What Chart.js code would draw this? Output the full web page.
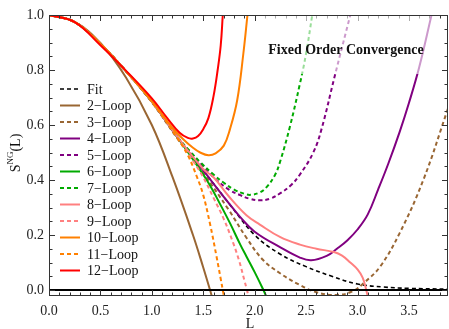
<!DOCTYPE html>
<html>
<head>
<meta charset="utf-8">
<script src="https://cdn.jsdelivr.net/npm/chart.js@4.4.1/dist/chart.umd.min.js"></script>
<style>
  html, body { margin: 0; padding: 0; background: #fff; }
  #wrap { width: 449px; height: 329px; }
</style>
</head>
<body>
<div id="wrap"><canvas id="chart" width="449" height="329"></canvas></div>
<script>
// curves, [L, S] pairs
const fit    = [[0,1],[0.25,0.974],[0.5,0.895],[0.75,0.795],[1.0,0.685],[1.25,0.555],[1.5,0.435],[1.75,0.315],[2.0,0.2],[2.25,0.13],[2.5,0.085],[2.75,0.05],[3.0,0.022],[3.25,0.011],[3.5,0.006],[3.88,0.003]];
const loop2  = [[0,1],[0.25,0.975],[0.5,0.898],[0.75,0.772],[1.0,0.6],[1.2,0.412],[1.4,0.2],[1.5,0.082],[1.566,0],[1.6,-0.045]];
const loop3  = [[0,1],[0.25,0.974],[0.5,0.895],[0.75,0.795],[1.0,0.683],[1.25,0.55],[1.5,0.425],[1.75,0.29],[1.92,0.19],[2.08,0.11],[2.25,0.06],[2.43,0.02],[2.6,-0.008],[2.8,-0.018],[2.95,-0.005],[3.06,0.025],[3.22,0.085],[3.41,0.207],[3.64,0.4],[3.88,0.66]];
const loop4  = [[0,1],[0.25,0.974],[0.5,0.895],[0.75,0.795],[1.0,0.685],[1.25,0.555],[1.5,0.435],[1.75,0.315],[1.86,0.265],[2.0,0.212],[2.25,0.155],[2.44,0.118],[2.55,0.108],[2.7,0.124],[2.8,0.15],[2.9,0.18],[3.0,0.22],[3.1,0.275],[3.2,0.365],[3.3,0.46],[3.41,0.575],[3.5,0.68],[3.6,0.81],[3.72,1.0]];
const loop5  = [[0,1],[0.25,0.974],[0.5,0.895],[0.75,0.795],[1.0,0.685],[1.25,0.556],[1.4,0.49],[1.5,0.45],[1.6,0.41],[1.75,0.365],[1.86,0.345],[1.95,0.332],[2.05,0.326],[2.15,0.332],[2.25,0.352],[2.35,0.38],[2.44,0.42],[2.57,0.5],[2.65,0.585],[2.78,0.78],[2.93,1.0]];
const loop6  = [[0,1],[0.25,0.974],[0.5,0.895],[0.75,0.795],[1.0,0.685],[1.25,0.555],[1.4,0.475],[1.55,0.39],[1.66,0.315],[1.76,0.243],[1.86,0.165],[1.92,0.122],[2.0,0.065],[2.085,0],[2.12,-0.03]];
const loop7  = [[0,1],[0.25,0.974],[0.5,0.895],[0.75,0.795],[1.0,0.685],[1.25,0.556],[1.37,0.505],[1.47,0.465],[1.6,0.42],[1.7,0.39],[1.8,0.365],[1.9,0.35],[1.96,0.346],[2.05,0.355],[2.12,0.376],[2.2,0.42],[2.25,0.47],[2.34,0.59],[2.44,0.75],[2.5,0.86],[2.56,1.0]];
const loop8  = [[0,1],[0.25,0.974],[0.5,0.895],[0.75,0.795],[1.0,0.685],[1.25,0.556],[1.5,0.44],[1.6,0.41],[1.75,0.34],[1.92,0.272],[2.05,0.238],[2.25,0.192],[2.44,0.165],[2.6,0.15],[2.77,0.138],[2.85,0.125],[2.93,0.1],[3.0,0.075],[3.05,0.045],[3.085,0],[3.1,-0.025]];
const loop9  = [[0,1],[0.25,0.974],[0.5,0.895],[0.75,0.795],[1.0,0.685],[1.25,0.554],[1.4,0.47],[1.5,0.41],[1.6,0.335],[1.7,0.258],[1.79,0.172],[1.85,0.105],[1.9,0.035],[1.925,0],[1.95,-0.04]];
const loop10 = [[0,1],[0.25,0.974],[0.5,0.895],[0.75,0.795],[1.0,0.687],[1.2,0.59],[1.3,0.55],[1.4,0.517],[1.47,0.5],[1.55,0.49],[1.62,0.497],[1.7,0.525],[1.76,0.585],[1.83,0.69],[1.89,0.86],[1.93,1.0]];
const loop11 = [[0,1],[0.25,0.974],[0.5,0.895],[0.75,0.795],[1.0,0.685],[1.25,0.552],[1.35,0.49],[1.44,0.41],[1.5,0.345],[1.566,0.24],[1.63,0.12],[1.67,0.04],[1.69,0],[1.71,-0.04]];
const loop12 = [[0,1],[0.25,0.974],[0.5,0.89],[0.75,0.797],[1.0,0.697],[1.15,0.625],[1.27,0.572],[1.35,0.553],[1.4,0.551],[1.45,0.56],[1.5,0.585],[1.55,0.625],[1.6,0.705],[1.64,0.8],[1.67,0.89],[1.69,1.0]];

const seriesNames = ['Fit', '2−Loop', '3−Loop', '4−Loop', '5−Loop', '6−Loop', '7−Loop', '8−Loop', '9−Loop', '10−Loop', '11−Loop', '12−Loop'];
const xTicks = [0, 0.5, 1, 1.5, 2, 2.5, 3, 3.5];
const yTicks = [0, 0.2, 0.4, 0.6, 0.8, 1.0];

const allSeries = [fit, loop2, loop3, loop4, loop5, loop6, loop7, loop8, loop9, loop10, loop11, loop12];
const colors = ['#000000', '#996633', '#996633', '#800080', '#800080', '#00aa00', '#00aa00', '#ff8080', '#ff8080', '#ff8000', '#ff8000', '#ff0000'];
const dashed = [true, false, true, false, true, false, true, false, true, false, true, false];

const serif = '"Liberation Serif", "DejaVu Serif", serif';

const datasets = allSeries.map((pts, i) => ({
  label: seriesNames[i],
  data: pts.map(p => ({ x: p[0], y: p[1] })),
  borderColor: colors[i],
  borderWidth: i === 0 ? 1.6 : 2,
  borderDash: dashed[i] ? [4, 3] : [],
  pointRadius: 0,
  fill: false,
  tension: 0.4,
  clip: 0,
  order: 100 - i
}));

// frame with inward ticks and the zero line
const framePlugin = {
  id: 'frame',
  afterDatasetsDraw(chart) {
    const { ctx, chartArea: a, scales: { x, y } } = chart;
    ctx.save();
    const y0 = y.getPixelForValue(0);
    ctx.strokeStyle = '#000';
    ctx.lineWidth = 2;
    ctx.beginPath(); ctx.moveTo(a.left, y0); ctx.lineTo(a.right, y0); ctx.stroke();

    ctx.strokeStyle = '#333';
    ctx.lineWidth = 1;
    ctx.strokeRect(a.left + 0.5, a.top + 0.5, a.right - a.left - 1, a.bottom - a.top - 1);
    ctx.beginPath();
    for (let i = 0; i <= 40; i++) {
      const v = i / 10;
      if (v > x.max) break;
      const px = Math.round(x.getPixelForValue(v)) + 0.5;
      const len = i % 5 === 0 ? 6 : 3.5;
      ctx.moveTo(px, a.bottom); ctx.lineTo(px, a.bottom - len);
      ctx.moveTo(px, a.top); ctx.lineTo(px, a.top + len);
    }
    for (let i = 0; i <= 20; i++) {
      const v = i * 0.05;
      const py = Math.round(y.getPixelForValue(v)) + 0.5;
      const len = i % 4 === 0 ? 6 : 3.5;
      ctx.moveTo(a.left, py); ctx.lineTo(a.left + len, py);
      ctx.moveTo(a.right, py); ctx.lineTo(a.right - len, py);
    }
    ctx.stroke();
    ctx.restore();
  }
};

// title with a see-through white box, legend, axis labels
const textPlugin = {
  id: 'texts',
  afterDraw(chart) {
    const { ctx, chartArea: a } = chart;
    ctx.save();
    ctx.fillStyle = 'rgba(255,255,255,0.6)';
    ctx.fillRect(262, a.top + 1, 172, 58);
    ctx.fillStyle = '#111';
    ctx.font = 'bold 14px ' + serif;
    ctx.textAlign = 'center';
    ctx.textBaseline = 'middle';
    ctx.fillText('Fixed Order Convergence', 346, 50);

    // legend
    ctx.font = '14px ' + serif;
    ctx.textAlign = 'left';
    seriesNames.forEach((name, i) => {
      const yy = 89 + i * 16.5;
      ctx.strokeStyle = colors[i];
      ctx.lineWidth = i === 0 ? 1.6 : 2;
      ctx.setLineDash(dashed[i] ? [4, 3] : []);
      ctx.beginPath(); ctx.moveTo(60, yy); ctx.lineTo(80, yy); ctx.stroke();
      ctx.setLineDash([]);
      ctx.fillStyle = '#111';
      ctx.fillText(name, 87, yy + 1);
    });

    // x label
    ctx.textAlign = 'center';
    ctx.fillText('L', 250, 324);

    // y label S^NG(L), rotated
    ctx.translate(16, 153);
    ctx.rotate(-Math.PI / 2);
    ctx.textAlign = 'left';
    const big = '14px ' + serif, small = '9px ' + serif;
    ctx.font = big; const w1 = ctx.measureText('S').width;
    ctx.font = small; const w2 = ctx.measureText('NG').width;
    ctx.font = big; const w3 = ctx.measureText('(L)').width;
    let cx = -(w1 + w2 + w3) / 2;
    ctx.font = big; ctx.fillText('S', cx, 0); cx += w1;
    ctx.font = small; ctx.fillText('NG', cx, -5); cx += w2;
    ctx.font = big; ctx.fillText('(L)', cx, 0);
    ctx.restore();
  }
};

new Chart(document.getElementById('chart'), {
  type: 'line',
  data: { datasets },
  options: {
    responsive: false,
    animation: false,
    events: [],
    layout: { padding: { top: 15, right: 1, left: 0, bottom: 0 } },
    plugins: { legend: { display: false }, tooltip: { enabled: false } },
    scales: {
      x: {
        type: 'linear',
        min: 0,
        max: 3.88,
        grid: { display: false, drawTicks: false },
        border: { display: false },
        afterBuildTicks: s => { s.ticks = xTicks.map(v => ({ value: v })); },
        afterFit: s => { s.height = 33; },
        ticks: {
          padding: 7,
          color: '#222',
          font: { family: serif, size: 14 },
          maxRotation: 0,
          callback: v => v.toFixed(1)
        }
      },
      y: {
        type: 'linear',
        min: -0.0218,
        max: 1.0,
        grid: { display: false, drawTicks: false },
        border: { display: false },
        afterBuildTicks: s => { s.ticks = yTicks.map(v => ({ value: v })); },
        afterFit: s => { s.width = 49; },
        ticks: {
          padding: 5,
          color: '#222',
          font: { family: serif, size: 14 },
          callback: v => v.toFixed(1)
        }
      }
    }
  },
  plugins: [framePlugin, textPlugin]
});
</script>
</body>
</html>
